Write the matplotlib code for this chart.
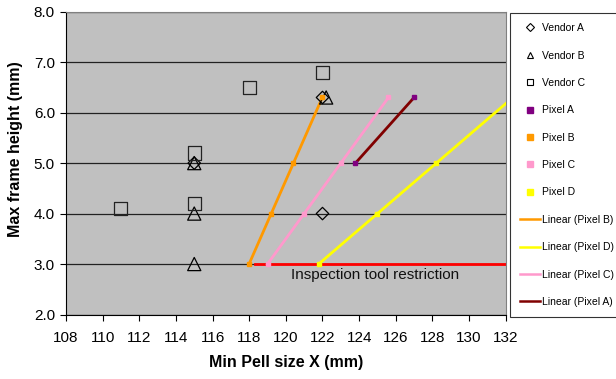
import numpy as np
import matplotlib
matplotlib.use("Agg")
import matplotlib.pyplot as plt
from matplotlib.lines import Line2D

plt.rcParams['font.family'] = ['Liberation Sans', 'DejaVu Sans']

vendor_a_x = [115, 122, 122]
vendor_a_y = [5.0, 6.3, 4.0]
vendor_b_x = [115, 115, 115, 122.2]
vendor_b_y = [5.0, 4.0, 3.0, 6.3]
vendor_c_x = [111, 115, 115, 118, 122]
vendor_c_y = [4.1, 5.2, 4.2, 6.5, 6.8]
pixel_a_x = [123.8, 127.0]
pixel_a_y = [5.0, 6.3]
pixel_b_x = [118.0, 119.2, 120.4, 122.0]
pixel_b_y = [3.0, 4.0, 5.0, 6.3]
pixel_c_x = [119.0, 121.0, 123.0, 125.6]
pixel_c_y = [3.0, 4.0, 5.0, 6.3]
pixel_d_x = [121.8, 125.0, 128.2, 132.4]
pixel_d_y = [3.0, 4.0, 5.0, 6.3]
restriction_x = [118.3, 132.0]
restriction_y = [3.0, 3.0]
restriction_label = "Inspection tool restriction"

x_ticks = list(range(108, 133, 2))
y_ticks = [2.0, 3.0, 4.0, 5.0, 6.0, 7.0, 8.0]

ORANGE = '#FF9900'

fig = plt.figure(figsize=(6.16, 3.79), dpi=100)
ax = fig.add_axes([66/616, 1-314.5/379, (505.7-66)/616, (314.5-11.7)/379])
ax.set_facecolor('#C0C0C0')
ax.set_xlim(108, 132)
ax.set_ylim(2.0, 8.0)
for yv in y_ticks:
    ax.axhline(yv, color='#222222', lw=0.9, zorder=1)

ax.scatter(vendor_a_x, vendor_a_y, marker='D', s=40, facecolors='none', edgecolors='black', linewidths=0.9, zorder=4, label='Vendor A')
ax.scatter(vendor_b_x, vendor_b_y, marker='^', s=90, facecolors='none', edgecolors='black', linewidths=0.9, zorder=4, label='Vendor B')
ax.scatter(vendor_c_x, vendor_c_y, marker='s', s=88, facecolors='none', edgecolors='#222222', linewidths=0.9, zorder=4, label='Vendor C')

pix = [(pixel_a_x, pixel_a_y, '#800080', '#800000', 'A'),
       (pixel_b_x, pixel_b_y, ORANGE, ORANGE, 'B'),
       (pixel_c_x, pixel_c_y, '#FF99CC', '#FF99CC', 'C'),
       (pixel_d_x, pixel_d_y, '#FFFF00', '#FFFF00', 'D')]

ax.plot(restriction_x, restriction_y, color='#FF0000', lw=2, zorder=2)
ax.text(120.27, 2.78, restriction_label, fontsize=11, ha='left', va='center', color='#111111')

for xs, ys, mc, lc, n in pix:
    p = np.polyfit(xs, ys, 1)
    xx = np.array([min(xs), max(xs)])
    ax.plot(xx, np.polyval(p, xx), color=lc, lw=2.0, zorder=3)
    ax.plot(xs, ys, linestyle='none', marker='s', markersize=3.5, color=mc, zorder=5, label=f'Pixel {n}')

ax.set_xticks(x_ticks)
ax.set_yticks(y_ticks)
ax.set_yticklabels([f'{v:.1f}' for v in y_ticks])
ax.tick_params(axis='both', labelsize=11, length=4, width=0.8, direction='out', colors='black')
ax.tick_params(axis='x', pad=8)
ax.tick_params(axis='y', pad=4)
for s in ['top', 'right']:
    ax.spines[s].set_color('#808080')
for s in ['left', 'bottom']:
    ax.spines[s].set_color('black')
ax.set_xlabel('Min Pell size X (mm)', fontsize=11.5, fontweight='bold', labelpad=7)
ax.set_ylabel('Max frame height (mm)', fontsize=11.5, fontweight='bold')
ax.yaxis.set_label_coords(-0.098, 0.547)

leg_handles = [
    Line2D([], [], linestyle='none', marker='D', markersize=4, markerfacecolor='none', markeredgecolor='black', markeredgewidth=0.8),
    Line2D([], [], linestyle='none', marker='^', markersize=5, markerfacecolor='none', markeredgecolor='black', markeredgewidth=0.8),
    Line2D([], [], linestyle='none', marker='s', markersize=5, markerfacecolor='none', markeredgecolor='black', markeredgewidth=0.8),
    Line2D([], [], linestyle='none', marker='s', markersize=4, color='#800080'),
    Line2D([], [], linestyle='none', marker='s', markersize=4, color=ORANGE),
    Line2D([], [], linestyle='none', marker='s', markersize=4, color='#FF99CC'),
    Line2D([], [], linestyle='none', marker='s', markersize=4, color='#FFFF00'),
    Line2D([], [], color=ORANGE, lw=1.8),
    Line2D([], [], color='#FFFF00', lw=1.8),
    Line2D([], [], color='#FF99CC', lw=1.8),
    Line2D([], [], color='#800000', lw=1.8),
]
leg_labels = ['Vendor A', 'Vendor B', 'Vendor C', 'Pixel A', 'Pixel B', 'Pixel C', 'Pixel D',
              'Linear (Pixel B)', 'Linear (Pixel D)', 'Linear (Pixel C)', 'Linear (Pixel A)']
leg = fig.legend(leg_handles, leg_labels, loc='upper left', bbox_to_anchor=(510/616, 1-12.7/379),
                 fontsize=7.5, frameon=True, fancybox=False, edgecolor='black', handlelength=1.9,
                 handletextpad=0.15, labelspacing=1.67, borderpad=1.0, borderaxespad=0)
leg.get_frame().set_linewidth(0.8)

fig.savefig('out.png', dpi=100)
